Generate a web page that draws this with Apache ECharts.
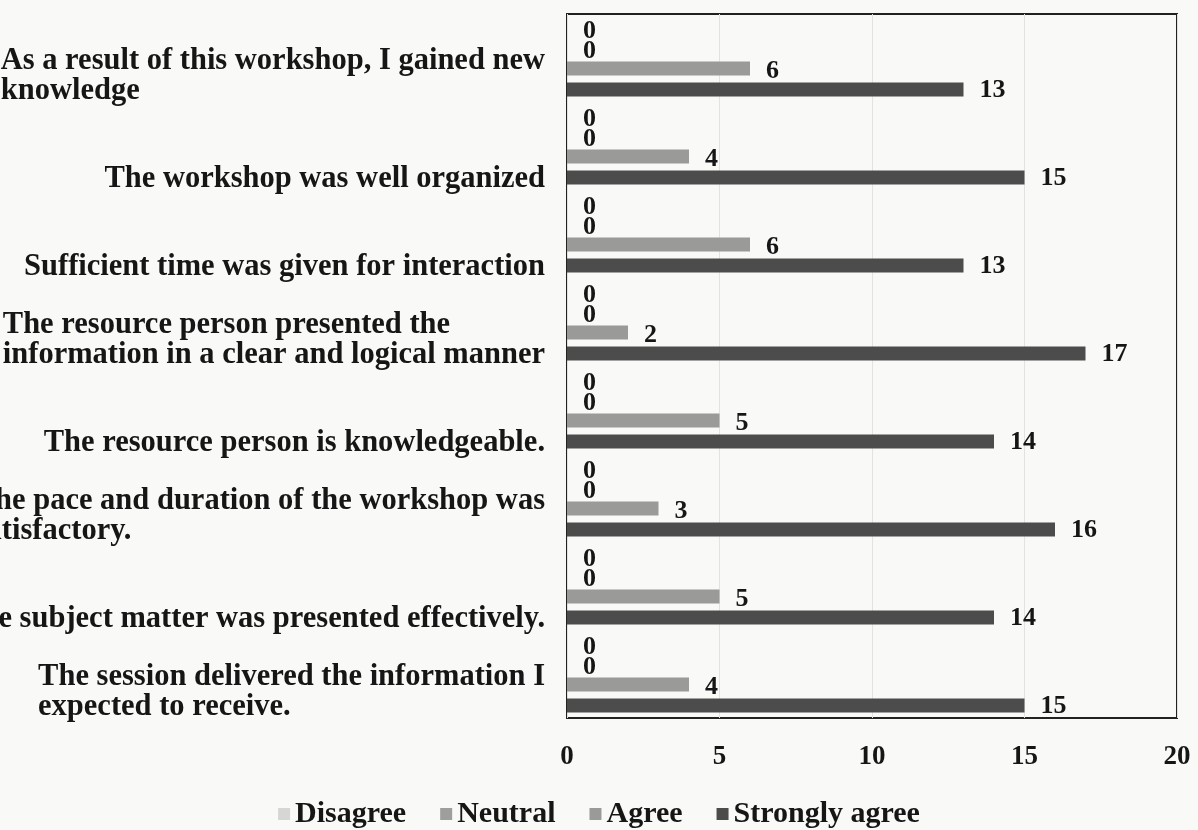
<!DOCTYPE html>
<html>
<head>
<meta charset="utf-8">
<script src="https://cdn.jsdelivr.net/npm/echarts@6/dist/echarts.min.js"></script>
<style>
  html, body { margin: 0; padding: 0; background: #f9f9f7; }
  #BarChart { width: 1198px; height: 830px; }
</style>
</head>
<body>
<div id="BarChart"></div>
<script>
// categories, top to bottom
var categories = [
  'As a result of this workshop, I gained new\nknowledge',
  'The workshop was well organized',
  'Sufficient time was given for interaction',
  'The resource person presented the\ninformation in a clear and logical manner',
  'The resource person is knowledgeable.',
  'The pace and duration of the workshop was\nsatisfactory.',
  'The subject matter was presented effectively.',
  'The session delivered the information I\nexpected to receive.'
];
var disagree = [0, 0, 0, 0, 0, 0, 0, 0];
var neutral = [0, 0, 0, 0, 0, 0, 0, 0];
var agree = [6, 4, 6, 2, 5, 3, 5, 4];
var stronglyAgree = [13, 15, 13, 17, 14, 16, 14, 15];
var seriesNames = ['Disagree', 'Neutral', 'Agree', 'Strongly agree'];
var xTicks = [0, 5, 10, 15, 20];

var font = '"Liberation Serif", "Times New Roman", serif';
var textColor = '#161616';

function bar(name, data, color, dy) {
  return {
    name: name,
    type: 'bar',
    data: data,
    barWidth: 14,
    barGap: '50%',
    itemStyle: { color: color },
    label: {
      show: true,
      position: 'right',
      distance: 16,
      offset: [0, dy],
      fontFamily: font,
      fontWeight: 'bold',
      fontSize: 26,
      color: textColor
    }
  };
}

var myChart = echarts.init(document.getElementById('BarChart'));
myChart.setOption({
  backgroundColor: '#f9f9f7',
  animation: false,
  grid: {
    left: 567,
    right: 21,
    top: 14,
    bottom: 112,
    containLabel: false,
    outerBoundsMode: 'none',
    show: true,
    borderColor: '#222',
    borderWidth: 2
  },
  legend: {
    top: 794,
    left: 'center',
    itemWidth: 12,
    itemHeight: 12,
    itemGap: 34,
    icon: 'rect',
    textStyle: { fontFamily: font, fontWeight: 'bold', fontSize: 30, color: textColor },
    data: seriesNames
  },
  xAxis: {
    type: 'value',
    min: xTicks[0],
    max: xTicks[xTicks.length - 1],
    interval: 5,
    axisLine: { show: false },
    axisTick: { show: false },
    splitLine: { lineStyle: { color: '#e2e2e0', width: 1 } },
    axisLabel: {
      margin: 26,
      fontFamily: font,
      fontWeight: 'bold',
      fontSize: 27,
      color: textColor
    }
  },
  yAxis: {
    type: 'category',
    inverse: true,
    data: categories,
    axisLine: { show: false },
    axisTick: { show: false },
    axisLabel: {
      interval: 0,
      margin: 22,
      align: 'right',
      verticalAlign: 'bottom',
      padding: [0, 0, -48, 0],
      lineHeight: 30,
      fontFamily: font,
      fontWeight: 'bold',
      fontSize: 30.5,
      color: textColor,
      formatter: function (v) {
        return v.split('\n').map(function (s) { return '{l|' + s + '}'; }).join('\n');
      },
      rich: {
        l: {
          align: 'left',
          lineHeight: 30,
          fontFamily: font,
          fontWeight: 'bold',
          fontSize: 30.5,
          color: textColor
        }
      }
    }
  },
  series: [
    bar(seriesNames[0], disagree, '#d6d6d4', 5),
    bar(seriesNames[1], neutral, '#9e9e9c', 4),
    bar(seriesNames[2], agree, '#9a9a98', 3),
    bar(seriesNames[3], stronglyAgree, '#4c4c4c', 1)
  ]
});
</script>
</body>
</html>
